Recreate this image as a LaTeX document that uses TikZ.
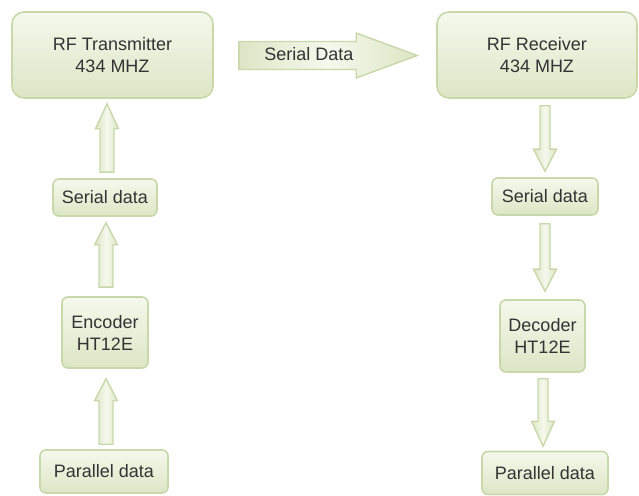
\documentclass[tikz,border=0pt]{standalone}
\usepackage{fontspec}
\setmainfont{Liberation Sans}
\usetikzlibrary{calc}
\definecolor{boxtop}{HTML}{F5F8EC}
\definecolor{boxbot}{HTML}{DCE6C5}
\definecolor{boxline}{HTML}{C9D8AA}
\definecolor{txt}{HTML}{333333}
\tikzset{
  blk/.style={draw=boxline, line width=1.6pt, top color=boxtop, bottom color=boxbot,
    text=txt, align=center, font=\fontsize{18}{22}\selectfont, inner sep=0pt},
  bigbox/.style={blk, rounded corners=12pt},
  smallbox/.style={blk, rounded corners=6pt},
  fatarr/.style={draw=boxline, line width=1.4pt, left color=boxbot, right color=boxbot, middle color=boxtop, line join=miter},
}
% #1 from, #2 to, #3 shaft half width, #4 head half width, #5 head length
\newcommand\fatarrow[5]{%
  \path[fatarr] let \p1=(#1), \p2=(#2),
     \n1={atan2(\y2-\y1,\x2-\x1)}, \n2={veclen(\x2-\x1,\y2-\y1)} in
     [shift={(\p1)}, rotate=\n1]
     (0,-#3) -- ({\n2-#5},-#3) -- ({\n2-#5},-#4) -- (\n2,0) -- ({\n2-#5},#4) -- ({\n2-#5},#3) -- (0,#3) -- cycle;}
\begin{document}
\begin{tikzpicture}[x=1pt,y=1pt]
\useasboundingbox[fill=white] (0,0) rectangle (639,495);
% nodes
\node[bigbox, minimum width=201pt, minimum height=86pt] (tx) at (112.5,440) {RF Transmitter\\434 MHZ};
\node[bigbox, minimum width=200pt, minimum height=86pt] (rx) at (537,440) {RF Receiver\\434 MHZ};
\node[smallbox, minimum width=104pt, minimum height=37pt] (ls) at (105,297.5) {Serial data};
\node[smallbox, minimum width=86pt, minimum height=71pt] (enc) at (105,162.5) {Encoder\\HT12E};
\node[smallbox, minimum width=128pt, minimum height=43pt] (lp) at (104,23.5) {Parallel data};
\node[smallbox, minimum width=106pt, minimum height=37pt] (rs) at (545,298.5) {Serial data};
\node[smallbox, minimum width=85pt, minimum height=72pt] (dec) at (542.5,159) {Decoder\\HT12E};
\node[smallbox, minimum width=126pt, minimum height=43pt] (rp) at (545,22) {Parallel data};
% arrow end points
\coordinate (a1s) at ($(ls.north)+(2,6)$);
\coordinate (a1e) at ($(tx.south)+(-5.5,-5)$);
\coordinate (a2s) at ($(enc.north)+(1,9)$);
\coordinate (a2e) at ($(ls.south)+(1,-6)$);
\coordinate (a3s) at ($(lp.north)+(2,5)$);
\coordinate (a3e) at ($(enc.south)+(1,-10)$);
\coordinate (b1s) at ($(rx.south)+(8,-7)$);
\coordinate (b1e) at ($(rs.north)+(0,6)$);
\coordinate (b2s) at ($(rs.south)+(0,-8)$);
\coordinate (b2e) at ($(dec.north)+(2.5,8)$);
\coordinate (b3s) at ($(dec.south)+(0.5,-6)$);
\coordinate (b3e) at ($(rp.north)+(-2,4.5)$);
\coordinate (hs) at ($(tx.east)+(25,-0.5)$);
\coordinate (he) at ($(rx.west)+(-19,-0.5)$);
% arrows
\fatarrow{a1s}{a1e}{7}{11.5}{25}
\fatarrow{a2s}{a2e}{7}{11.5}{22}
\fatarrow{a3s}{a3e}{7}{11.5}{22}
\fatarrow{b1s}{b1e}{5}{11.5}{22}
\fatarrow{b2s}{b2e}{5}{11.5}{22}
\fatarrow{b3s}{b3e}{5}{11.5}{25}
\fatarrow{hs}{he}{14}{22.5}{61}
\node[text=txt, font=\fontsize{18}{22}\selectfont] (sd) at ($(hs)+(70,1)$) {Serial Data};
\end{tikzpicture}
\end{document}
